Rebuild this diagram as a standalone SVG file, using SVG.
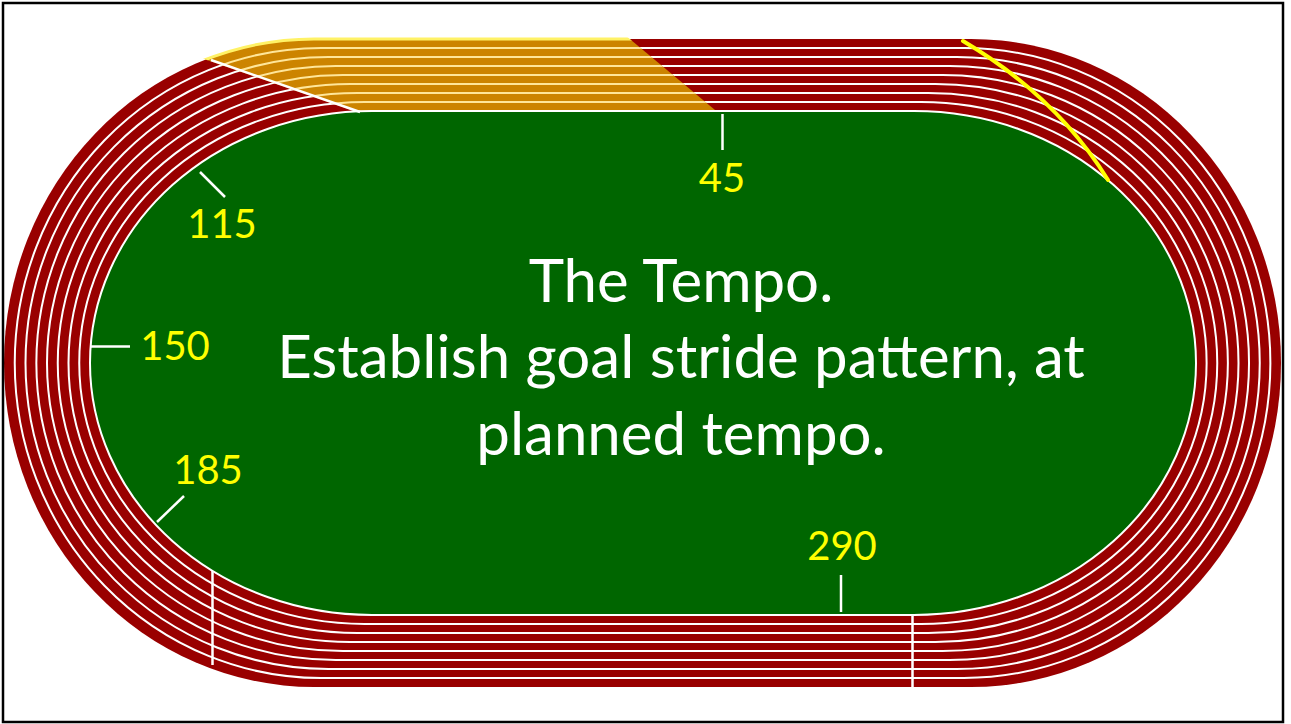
<svg xmlns="http://www.w3.org/2000/svg" xmlns:xlink="http://www.w3.org/1999/xlink" width="1291" height="724" viewBox="0 0 1291 724">
  <style>
    .lane { fill: none; stroke: #FFFFFF; stroke-width: 2; }
    .lane-o { fill: none; stroke: #FFE699; stroke-width: 2; }
    .tick { stroke: #FFFFFF; stroke-width: 2.5; stroke-linecap: butt; }
    .num { font-family: Lato, "Liberation Sans", sans-serif; font-size: 40px; fill: #FFFF00; text-anchor: middle; }
    .main { font-family: Lato, "Liberation Sans", sans-serif; font-size: 60px; fill: #FFFFFF; text-anchor: middle; }
  </style>
  <defs>
    <path id="b0" d="M372,111 H914 A282,252 0 0 1 914,615 H372 A282,252 0 0 1 372,111 Z"/>
    <path id="b1" d="M364.75,102 H921.125 A285.5,261 0 0 1 921.125,624 H364.75 A285.5,261 0 0 1 364.75,102 Z"/>
    <path id="b2" d="M357.5,93 H928.25 A289,270 0 0 1 928.25,633 H357.5 A289,270 0 0 1 357.5,93 Z"/>
    <path id="b3" d="M350.25,84 H935.375 A292.5,279 0 0 1 935.375,642 H350.25 A292.5,279 0 0 1 350.25,84 Z"/>
    <path id="b4" d="M343,75 H942.5 A296,288 0 0 1 942.5,651 H343 A296,288 0 0 1 343,75 Z"/>
    <path id="b5" d="M335.75,66 H949.625 A299.5,297 0 0 1 949.625,660 H335.75 A299.5,297 0 0 1 335.75,66 Z"/>
    <path id="b6" d="M328.5,57 H956.75 A303,306 0 0 1 956.75,669 H328.5 A303,306 0 0 1 328.5,57 Z"/>
    <path id="b7" d="M321.25,48 H963.875 A306.5,315 0 0 1 963.875,678 H321.25 A306.5,315 0 0 1 321.25,48 Z"/>
    <path id="b8" d="M314,39 H971 A310,324 0 0 1 971,687 H314 A310,324 0 0 1 314,39 Z"/>
    <clipPath id="orangeClip">
      <polygon points="178,50 178,0 583,0 745,135 400,127"/>
    </clipPath>
  </defs>

  <g id="track">
    <use xlink:href="#b8" fill="#990000"/>
    <use xlink:href="#b1" class="lane"/>
    <use xlink:href="#b2" class="lane"/>
    <use xlink:href="#b3" class="lane"/>
    <use xlink:href="#b4" class="lane"/>
    <use xlink:href="#b5" class="lane"/>
    <use xlink:href="#b6" class="lane"/>
    <use xlink:href="#b7" class="lane"/>
  </g>

  <g id="orange-section" clip-path="url(#orangeClip)">
    <use xlink:href="#b8" fill="#CC8400"/>
    <use xlink:href="#b1" class="lane-o"/>
    <use xlink:href="#b2" class="lane-o"/>
    <use xlink:href="#b3" class="lane-o"/>
    <use xlink:href="#b4" class="lane-o"/>
    <use xlink:href="#b5" class="lane-o"/>
    <use xlink:href="#b6" class="lane-o"/>
    <use xlink:href="#b7" class="lane-o"/>
    <use xlink:href="#b8" fill="none" stroke="#FFF266" stroke-width="3"/>
  </g>

  <g id="field">
    <use xlink:href="#b0" fill="#006600" stroke="#FFFFFF" stroke-width="2"/>
  </g>

  <g id="lines">
    <line x1="211" y1="60" x2="360" y2="112" stroke="#FFFFFF" stroke-width="2.5"/>
    <line x1="212.5" y1="571" x2="212.5" y2="665" stroke="#FFFFFF" stroke-width="2.5"/>
    <line x1="912.5" y1="615" x2="912.5" y2="688" stroke="#FFFFFF" stroke-width="2.5"/>
    <path d="M963,41 Q1056,96 1108,180" fill="none" stroke="#FFFF00" stroke-width="4" stroke-linecap="round"/>
  </g>

  <g id="ticks">
    <line class="tick" x1="722.5" y1="114" x2="722.5" y2="150"/>
    <line class="tick" x1="200" y1="172" x2="225" y2="197"/>
    <line class="tick" x1="91" y1="346.5" x2="130" y2="346.5"/>
    <line class="tick" x1="157" y1="522" x2="184" y2="496"/>
    <line class="tick" x1="841" y1="575" x2="841" y2="612"/>
  </g>

  <g id="labels">
    <text class="num" x="722" y="192">45</text>
    <text class="num" x="222" y="238">115</text>
    <text class="num" x="175" y="360">150</text>
    <text class="num" x="208" y="484">185</text>
    <text class="num" x="842" y="560">290</text>
  </g>

  <g id="title">
    <text class="main" x="681" y="302">The Tempo.</text>
    <text class="main" x="681" y="378">Establish goal stride pattern, at</text>
    <text class="main" x="681" y="455">planned tempo.</text>
  </g>

  <rect id="border" x="3" y="3" width="1280" height="719" fill="none" stroke="#000000" stroke-width="2.5"/>
</svg>
